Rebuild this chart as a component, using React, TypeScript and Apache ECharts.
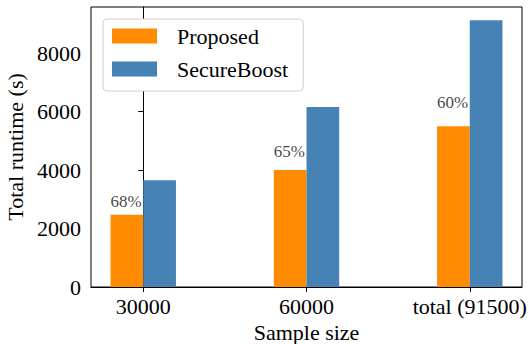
import React, { useEffect, useRef } from "react";
import * as echarts from "echarts";

// Runtime comparison per sample size (seconds)
const categories = ["30000", "60000", "total (91500)"];
const proposed = [2470, 4000, 5500];
const secureBoost = [3650, 6160, 9120];
const yTicks = [0, 2000, 4000, 6000, 8000];

const FONT = "'Liberation Serif', 'Times New Roman', 'DejaVu Serif', serif";
const ORANGE = "#ff8c00";
const BLUE = "#4682b4";

export default function App() {
  const ref = useRef<HTMLDivElement>(null);

  useEffect(() => {
    if (!ref.current) return;
    const chart = echarts.init(ref.current, null, { renderer: "svg" });
    const xs = categories.map((_, i) => i);
    const yMax = Math.max(...secureBoost) * 1.05;

    chart.setOption({
      animation: false,
      backgroundColor: "#ffffff",
      grid: {
        left: 91,
        right: 7,
        top: 7,
        bottom: 57,
        show: true,
        borderColor: "#000",
        borderWidth: 1,
        backgroundColor: "transparent",
        outerBoundsMode: "none",
      },
      legend: {
        orient: "vertical",
        left: 103,
        top: 19,
        icon: "rect",
        itemWidth: 45,
        itemHeight: 15,
        itemGap: 11,
        padding: [6, 15, 11, 9],
        backgroundColor: "#fff",
        borderColor: "#d0d0d0",
        borderWidth: 1,
        borderRadius: 4,
        data: ["Proposed", "SecureBoost"],
        textStyle: {
          fontFamily: FONT,
          fontSize: 22,
          lineHeight: 22,
          color: "#000",
          padding: [0, 0, 0, 15],
        },
      },
      xAxis: {
        type: "value",
        min: -0.32,
        max: 2.32,
        name: "Sample size",
        nameLocation: "middle",
        nameGap: 31,
        nameTextStyle: { fontFamily: FONT, fontSize: 22, color: "#000" },
        axisLine: { show: true, lineStyle: { color: "#000", width: 1 } },
        axisTick: {
          show: true,
          inside: false,
          length: 5,
          customValues: xs,
          lineStyle: { color: "#000", width: 1 },
        },
        axisLabel: {
          show: true,
          customValues: xs,
          margin: 8,
          fontFamily: FONT,
          fontSize: 22,
          color: "#000",
          formatter: (v: number) => categories[Math.round(v)] ?? "",
        },
        splitLine: { show: false },
      },
      yAxis: {
        type: "value",
        min: 0,
        max: yMax,
        name: "Total runtime (s)",
        nameLocation: "middle",
        nameGap: 55,
        nameRotate: 90,
        nameTextStyle: { fontFamily: FONT, fontSize: 22, color: "#000" },
        axisLine: { show: true, lineStyle: { color: "#000", width: 1 } },
        axisTick: {
          show: true,
          inside: false,
          length: 5,
          customValues: yTicks,
          lineStyle: { color: "#000", width: 1 },
        },
        axisLabel: {
          show: true,
          customValues: yTicks,
          margin: 10,
          fontFamily: FONT,
          fontSize: 22,
          color: "#000",
          formatter: (v: number) => String(Math.round(v)),
        },
        splitLine: { show: false },
      },
      series: [
        {
          name: "Proposed",
          type: "bar",
          barWidth: 32.7,
          barGap: "0%",
          itemStyle: { color: ORANGE },
          data: proposed.map((v, i) => [i, v]),
        },
        {
          name: "SecureBoost",
          type: "bar",
          barWidth: 32.7,
          barGap: "0%",
          itemStyle: { color: BLUE },
          data: secureBoost.map((v, i) => [i, v]),
        },
        {
          // ratio of proposed runtime to SecureBoost, written above each orange bar
          name: "ratio",
          type: "scatter",
          symbolSize: 0,
          silent: true,
          data: proposed.map((v, i) => [i - 0.2, v * 1.12]),
          label: {
            show: true,
            position: [0, 0],
            align: "left",
            verticalAlign: "bottom",
            offset: [0, 4],
            fontFamily: FONT,
            fontSize: 17,
            lineHeight: 17,
            color: "#111",
            formatter: (p: any) =>
              Math.round((proposed[p.dataIndex] / secureBoost[p.dataIndex]) * 100) + "%",
          },
        },
      ],
    });

    return () => chart.dispose();
  }, []);

  return (
    <div
      ref={ref}
      style={{ position: "fixed", left: 0, top: 0, width: 529, height: 344 }}
    />
  );
}
